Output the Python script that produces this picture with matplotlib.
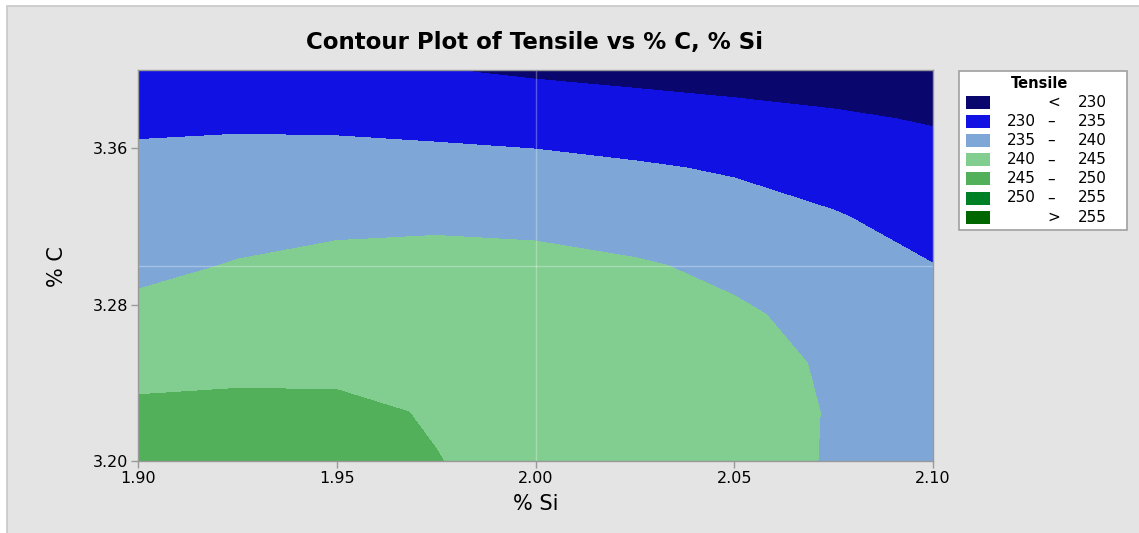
import numpy as np
import matplotlib
matplotlib.use("Agg")
import matplotlib.pyplot as plt
from matplotlib.patches import Rectangle

# grid
si = [1.900, 1.925, 1.950, 1.975, 2.000, 2.025, 2.050, 2.075, 2.100]
c = [3.200, 3.225, 3.250, 3.275, 3.300, 3.325, 3.350, 3.375, 3.400]
tensile = [
    [248.2, 248.4, 247.8, 245.1, 243.77, 242.45, 241.12, 239.79, 238.2],
    [245.83, 246.01, 245.81, 244.7, 242.94, 241.86, 240.9, 239.86, 238.3],
    [243.49, 243.93, 244.05, 243.25, 242.11, 241.27, 240.7, 239.75, 237.9],
    [241.16, 242.09, 242.44, 242.03, 241.28, 240.69, 240.5, 238.94, 236.7],
    [238.9, 240.25, 240.83, 240.80, 240.7, 240.4, 239.2, 237.0, 235.08],
    [237.57, 238.29, 239.2, 239.5, 239.3, 237.95, 236.71, 235.32, 233.29],
    [235.95, 236.32, 236.50, 236.43, 236.11, 235.47, 234.55, 232.95, 231.5],
    [234.3, 234.4, 234.2, 233.7, 233.2, 232.17, 231.37, 230.51, 229.71],
    [231.2, 231.3, 231.0, 230.17, 229.26, 228.7, 228.2, 228.0, 227.9],
]
levels = [230, 235, 240, 245, 250, 255]
colors = ["#09076E", "#1111E3", "#7EA7D8", "#82CD90", "#52B05A", "#008025", "#006600"]
si_ticks = [1.90, 1.95, 2.00, 2.05, 2.10]
c_ticks = [3.20, 3.28, 3.36]

W, H = 1139, 533
fig = plt.figure(figsize=(W / 100, H / 100), dpi=100)
fig.patch.set_facecolor("white")

def fx(px):
    return px / W

def fy(py):
    return 1 - py / H

# gray panel behind everything (right/bottom edges run off the canvas)
fig.add_artist(Rectangle((fx(7), -0.1), 1.2, fy(6) + 0.1, transform=fig.transFigure,
                         fc="#E4E4E4", ec="#C8C8C8", lw=1.2, zorder=0))

ax = fig.add_axes([fx(138), fy(461), fx(933) - fx(138), fy(70) - fy(461)])
bounds = [200] + levels + [300]
ax.contourf(si, c, tensile, levels=bounds, colors=colors)
ax.axvline(2.00, color="white", alpha=0.3, lw=1)
ax.axhline(3.30, color="white", alpha=0.3, lw=1)
ax.set_xlim(1.90, 2.10)
ax.set_ylim(3.20, 3.40)
ax.set_xticks(si_ticks)
ax.set_xticklabels([f"{t:.2f}" for t in si_ticks])
ax.set_yticks(c_ticks)
ax.set_yticklabels([f"{t:.2f}" for t in c_ticks])
ax.tick_params(direction="out", length=5, width=1, color="#999999",
               labelsize=11.5, pad=2)
for s in ax.spines.values():
    s.set_color("#999999")
    s.set_linewidth(1)

fig.text(fx(535), fy(42), "Contour Plot of Tensile vs % C, % Si",
         ha="center", va="center", fontsize=16.5, fontweight="bold")
fig.text(fx(535.5), fy(504), "% Si", ha="center", va="center", fontsize=15)
fig.text(fx(57), fy(267), "% C", ha="center", va="center", fontsize=15,
         rotation=90)

# legend box
fig.add_artist(Rectangle((fx(959), fy(230)), fx(1127) - fx(959), fy(71) - fy(230),
                         transform=fig.transFigure, fc="white", ec="#A0A0A0",
                         lw=1.2, zorder=2))
fig.text(fx(1040), fy(83), "Tensile", ha="center", va="center",
         fontsize=10.5, fontweight="bold", zorder=3)

labels = [("<", levels[0])] + [(levels[i], levels[i + 1]) for i in range(len(levels) - 1)] \
    + [(">", levels[-1])]
for i, (lo, hi) in enumerate(labels):
    yc = 102.5 + i * 19.1
    fig.add_artist(Rectangle((fx(966), fy(yc + 6.5)), fx(990) - fx(966), fy(yc - 6.5) - fy(yc + 6.5),
                             transform=fig.transFigure, fc=colors[i], ec="none", zorder=3))
    if isinstance(lo, str):
        fig.text(fx(1054), fy(yc), lo, ha="center", va="center", fontsize=11, zorder=3)
    else:
        fig.text(fx(1036), fy(yc), str(lo), ha="right", va="center", fontsize=11, zorder=3)
        fig.text(fx(1051), fy(yc), "–", ha="center", va="center", fontsize=11, zorder=3)
    fig.text(fx(1107), fy(yc), str(hi), ha="right", va="center", fontsize=11, zorder=3)

fig.savefig("out.png", dpi=100)
